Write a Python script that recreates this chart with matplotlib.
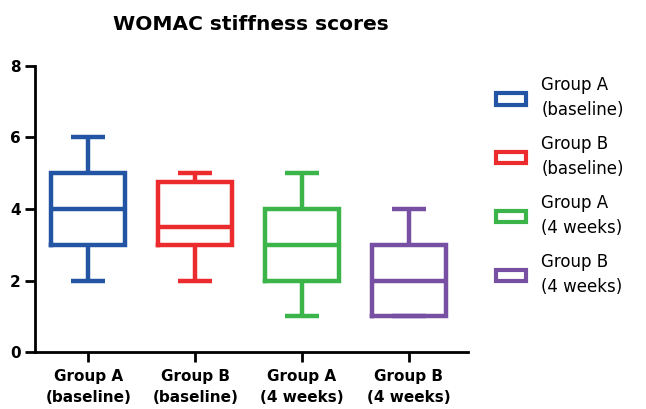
import matplotlib
matplotlib.use("Agg")
import matplotlib.pyplot as plt
from matplotlib.patches import Patch

# five-number summaries
groups = ["Group A\n(baseline)", "Group B\n(baseline)", "Group A\n(4 weeks)", "Group B\n(4 weeks)"]
whislo = [2, 2, 1, 1]
q1 = [3, 3, 2, 1]
med = [4, 3.5, 3, 2]
q3 = [5, 4.75, 4, 3]
whishi = [6, 5, 5, 4]
colors = ["#2455a5", "#ec2b2f", "#3bb54a", "#7750a3"]
yticks = [0, 2, 4, 6, 8]

plt.rcParams["font.family"] = ["DejaVu Sans"]

fig = plt.figure(figsize=(6.46, 4.09), dpi=100)
ax = fig.add_axes([0.054, 0.139, 0.67, 0.70])

stats = []
for i in range(len(groups)):
    stats.append(dict(whislo=whislo[i], q1=q1[i], med=med[i], q3=q3[i],
                      whishi=whishi[i], fliers=[]))

bp = ax.bxp(stats, positions=range(len(groups)), widths=0.69,
            showfliers=False, patch_artist=False)
for i, c in enumerate(colors):
    bp["boxes"][i].set(color=c, linewidth=3.2, solid_joinstyle="miter",
                       solid_capstyle="projecting")
    bp["medians"][i].set(color=c, linewidth=3.2, solid_capstyle="butt")
    for j in (2 * i, 2 * i + 1):
        bp["whiskers"][j].set(color=c, linewidth=3.2, solid_capstyle="butt")
        bp["caps"][j].set(color=c, linewidth=3.2, solid_capstyle="butt")
        bp["caps"][j].set_xdata([i - 0.16, i + 0.16])

ax.set_xlim(-0.5, 3.55)
ax.set_ylim(0, 8)
ax.set_yticks(yticks, labels=[str(v) for v in yticks],
              fontsize=11, fontweight="bold")
ax.set_xticks(range(len(groups)))
ax.set_xticklabels(groups, fontsize=11, fontweight="bold", linespacing=1.55)
ax.tick_params(axis="y", width=2, length=7, pad=3)
ax.tick_params(axis="x", width=2, length=7, pad=5)
for s in ("top", "right"):
    ax.spines[s].set_visible(False)
for s in ("left", "bottom"):
    ax.spines[s].set_linewidth(2)

fig.text(0.388, 0.94, "WOMAC stiffness scores", ha="center", va="center",
         fontsize=14.5, fontweight="bold")

handles = [Patch(facecolor="white", edgecolor=c, linewidth=3) for c in colors]
leg = fig.legend(handles, groups, loc="upper left", bbox_to_anchor=(0.745, 0.85),
                 frameon=False, fontsize=12, handlelength=1.8, handleheight=0.7,
                 handletextpad=0.9, labelspacing=1.0)
for t in leg.get_texts():
    t.set_linespacing(1.45)

fig.savefig("out.png", dpi=100, facecolor="white")
